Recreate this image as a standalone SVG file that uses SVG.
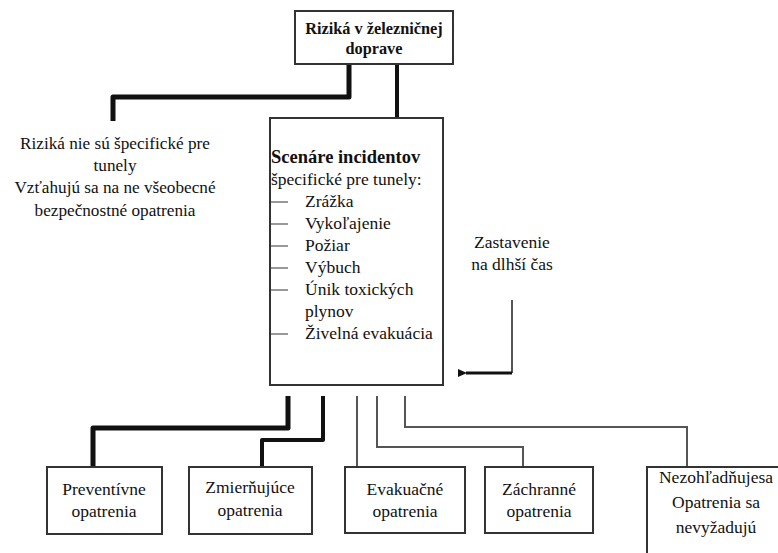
<svg xmlns="http://www.w3.org/2000/svg" width="778" height="553" viewBox="0 0 778 553" font-family="'Liberation Serif','Times New Roman',serif">
<defs>
<marker id="ah" markerWidth="10" markerHeight="8" refX="1" refY="4" orient="auto" markerUnits="userSpaceOnUse">
<path d="M9,0 L0,4 L9,8 Z" fill="#111"/>
</marker>
</defs>
<style>
text{font-family:"Liberation Serif","Times New Roman",serif;fill:#111;font-size:17.5px}
.b{font-weight:bold}
.c{text-anchor:middle}
.box{fill:#fff;stroke:#333;stroke-width:2}
.k{fill:none;stroke:#111;stroke-linejoin:round}
.t{fill:none;stroke:#555;stroke-width:2}
</style>
<rect width="778" height="553" fill="#fff"/>
<g id="connectors">
<path class="k" d="M349,64 V97 H113 V121" stroke-width="5"/>
<path class="k" d="M397,64 V118" stroke-width="4"/>
<path class="k" d="M288,396 V428 H93 V467" stroke-width="5"/>
<path class="k" d="M323,396 V440 H262 V467" stroke-width="4"/>
<path class="t" d="M357,396 V467"/>
<path class="t" d="M377,396 V447 H523 V467"/>
<path class="t" d="M405,396 V427 H687 V467"/>
<path class="t" d="M512,300 V373"/>
<path d="M512,373 H466" stroke="#111" stroke-width="3" fill="none" marker-end="url(#ah)"/>
</g>
<g id="top">
<rect class="box" x="295" y="11" width="158" height="53"/>
<text class="b c" x="374" y="34" style="font-size:16.3px">Riziká v železničnej</text>
<text class="b c" x="374" y="54" style="font-size:16.3px">doprave</text>
</g>
<g id="nonspecific">
<text class="c" x="115" y="149" style="font-size:17.2px">Riziká nie sú špecifické pre</text>
<text class="c" x="115" y="171" style="font-size:17.2px">tunely</text>
<text class="c" x="115" y="193" style="font-size:17.2px">Vzťahujú sa na ne všeobecné</text>
<text class="c" x="115" y="216" style="font-size:17.2px">bezpečnostné opatrenia</text>
</g>
<g id="scenarios">
<rect class="box" x="270" y="118" width="173" height="267"/>
<text class="b" x="271" y="163" style="font-size:18.5px">Scenáre incidentov</text>
<text x="271" y="185">špecifické pre tunely:</text>
<g stroke="#333" stroke-width="1">
<line x1="271" y1="202" x2="288" y2="202"/>
<line x1="271" y1="224" x2="288" y2="224"/>
<line x1="271" y1="246" x2="288" y2="246"/>
<line x1="271" y1="268" x2="288" y2="268"/>
<line x1="271" y1="290" x2="288" y2="290"/>
<line x1="271" y1="334" x2="288" y2="334"/>
</g>
<text x="305" y="207">Zrážka</text>
<text x="305" y="229">Vykoľajenie</text>
<text x="305" y="251">Požiar</text>
<text x="305" y="273">Výbuch</text>
<text x="305" y="295">Únik toxických</text>
<text x="305" y="317">plynov</text>
<text x="305" y="339">Živelná evakuácia</text>
</g>
<g id="stop">
<text class="c" x="512" y="248">Zastavenie</text>
<text class="c" x="512" y="270">na dlhší čas</text>
</g>
<g id="preventive">
<rect class="box" x="47" y="467" width="115" height="67"/>
<text class="c" x="104" y="495">Preventívne</text>
<text class="c" x="104" y="517">opatrenia</text>
</g>
<g id="mitigating">
<rect class="box" x="189" y="467" width="123" height="67"/>
<text class="c" x="250" y="493">Zmierňujúce</text>
<text class="c" x="250" y="516">opatrenia</text>
</g>
<g id="evacuation">
<rect class="box" x="345" y="467" width="120" height="66"/>
<text class="c" x="405" y="495">Evakuačné</text>
<text class="c" x="405" y="517">opatrenia</text>
</g>
<g id="rescue">
<rect class="box" x="485" y="467" width="108" height="66"/>
<text class="c" x="539" y="495">Záchranné</text>
<text class="c" x="539" y="517">opatrenia</text>
</g>
<g id="none">
<rect class="box" x="647" y="467" width="160" height="120"/>
<text class="c" x="716" y="483">Nezohľadňujesa</text>
<text class="c" x="716" y="508">Opatrenia sa</text>
<text class="c" x="716" y="533">nevyžadujú</text>
</g>
</svg>
